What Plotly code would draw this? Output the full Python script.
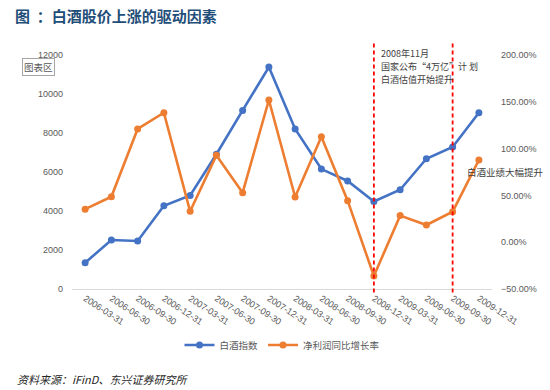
import plotly.graph_objects as go

categories = ["2006-03-31", "2006-06-30", "2006-09-30", "2006-12-31",
              "2007-03-31", "2007-06-30", "2007-09-30", "2007-12-31",
              "2008-03-31", "2008-06-30", "2008-09-30", "2008-12-31",
              "2009-03-31", "2009-06-30", "2009-09-30", "2009-12-31"]
baijiu_index = [1350, 2510, 2460, 4270, 4800, 6910, 9160, 11380,
                8210, 6150, 5540, 4490, 5090, 6680, 7280, 9040]
profit_growth = [0.353, 0.486, 1.21, 1.384, 0.33, 0.928, 0.529, 1.519,
                 0.483, 1.127, 0.444, -0.361, 0.284, 0.184, 0.326, 0.878]
left_ticks = [0, 2000, 4000, 6000, 8000, 10000, 12000]
left_labels = ["0", "2000", "4000", "6000", "8000", "10000", "12000"]
right_ticks = [-0.5, 0.0, 0.5, 1.0, 1.5, 2.0]
marker_dates = ["2008-12-31", "2009-09-30"]
note_lines = ["2008年11月", "国家公布“4万亿”计 划", "白酒估值开始提升"]

BLUE = "#4472C4"
ORANGE = "#ED7D31"
GREY = "#595959"
CJK = "Noto Sans CJK SC"
NUM = "Liberation Sans"

fig = go.Figure()
fig.add_trace(go.Scatter(x=categories, y=baijiu_index, name="白酒指数",
                         mode="lines+markers",
                         line=dict(color=BLUE, width=2.6),
                         marker=dict(color=BLUE, size=7), yaxis="y"))
fig.add_trace(go.Scatter(x=categories, y=profit_growth, name="净利润同比增长率",
                         mode="lines+markers",
                         line=dict(color=ORANGE, width=2.6),
                         marker=dict(color=ORANGE, size=7), yaxis="y2"))

for d in marker_dates:
    fig.add_shape(type="line", xref="x", yref="paper", x0=d, x1=d,
                  y0=-0.015, y1=1.056,
                  line=dict(color="#FF0000", width=1.8, dash="4px,3px"))

annotations = []
for i, t in enumerate(note_lines):
    annotations.append(dict(text=t, xref="paper", yref="paper",
                            x=(379-72)/420, y=(289-(53.5+13*i))/234,
                            xanchor="left", yanchor="middle", showarrow=False,
                            font=dict(size=9, color="#404040")))
annotations += [
    dict(text="白酒业绩大幅提升", xref="paper", yref="paper",
         x=(465-72)/420, y=(289-171.7)/234, xanchor="left",
         yanchor="middle", showarrow=False,
         font=dict(size=9.5, color="#404040")),
    dict(text="图表区", xref="paper", yref="paper",
         x=(21.7-72)/420, y=(289-67)/234, xanchor="left",
         yanchor="middle", showarrow=False, bordercolor="#A6A6A6",
         borderwidth=1, borderpad=1, bgcolor="white",
         font=dict(size=9.5, color=GREY)),
    dict(text="<i>资料来源：iFinD、东兴证券研究所</i>", xref="paper",
         yref="paper", x=(15-72)/420, y=(289-379)/234, xanchor="left",
         yanchor="middle", showarrow=False,
         font=dict(size=11, color="#262626")),
]

fig.update_layout(
    width=550, height=390,
    margin=dict(l=72, r=58, t=55, b=101, autoexpand=False),
    paper_bgcolor="white", plot_bgcolor="white",
    font=dict(family=CJK, size=10, color=GREY),
    showlegend=True,
    legend=dict(orientation="h", x=0.5, xanchor="center", y=-0.239,
                yanchor="middle", font=dict(size=9.5, color=GREY),
                itemwidth=30),
    title=dict(text="<b>图  ：白酒股价上涨的驱动因素</b>", xref="container",
               x=15/550, xanchor="left", y=1-17/390, yanchor="middle",
               font=dict(size=15, color="#1F4E79", family=CJK)),
    xaxis=dict(type="category", tickangle=33, showgrid=False,
               showline=True, linecolor="#D9D9D9", linewidth=1,
               ticks="", tickfont=dict(size=9, color=GREY, family=NUM),
               range=[-0.5, 15.5], automargin=False),
    yaxis=dict(range=[0, 12000], tickvals=left_ticks, ticktext=left_labels,
               showgrid=False, zeroline=False, showline=False, ticks="",
               tickfont=dict(size=9, color=GREY, family=NUM),
               ticklabelstandoff=8, automargin=False),
    yaxis2=dict(range=[-0.5, 2.0], tickvals=right_ticks, tickformat=".2%",
                overlaying="y", side="right", showgrid=False, zeroline=False,
                showline=False, ticks="",
                tickfont=dict(size=9, color=GREY, family=NUM),
                ticklabelstandoff=8, automargin=False),
    annotations=annotations,
)

fig.write_html("out.html", config={"displayModeBar": False},
               post_script="document.body.style.margin='0';"
                           "document.body.style.overflow='hidden';")
